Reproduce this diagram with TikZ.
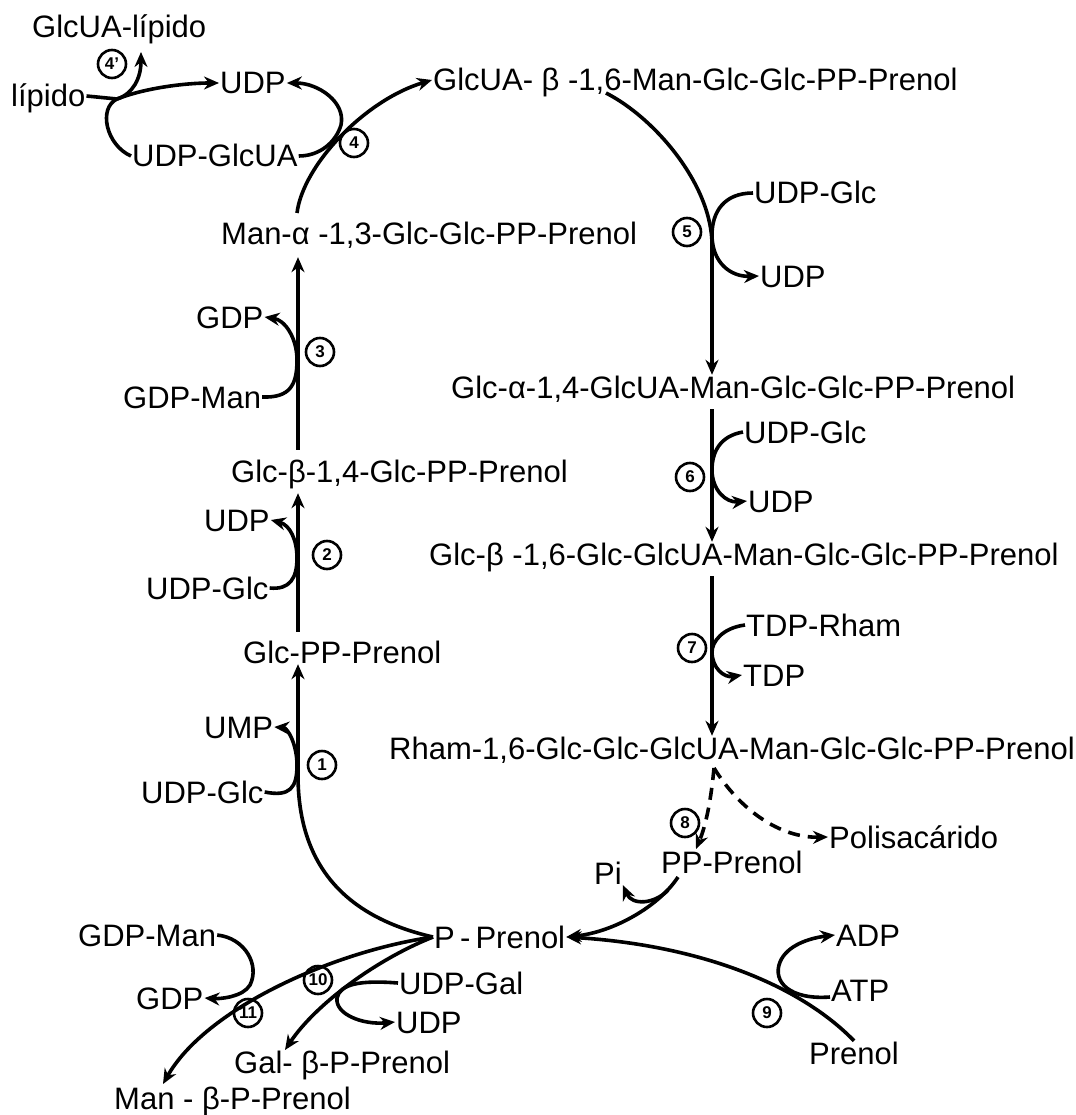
\documentclass[tikz,border=0pt]{standalone}
\usepackage{fontspec}
\setmainfont{Liberation Sans}
\usetikzlibrary{arrows.meta}

\begin{document}
\begin{tikzpicture}[x=1pt, y=-1pt, >={Stealth[length=15pt,width=13pt]},
    every node/.style={font=\fontsize{31}{36}\selectfont},
    texto/.style={anchor=west, inner sep=1pt, text height=22pt, text depth=0pt},
    paso/.style={draw, circle, line width=2.6pt, inner sep=0pt, minimum size=28pt,
                 font=\fontsize{17}{17}\selectfont\bfseries},
    flujo/.style={line width=3.6pt},
    rayas/.style={flujo, dash pattern=on 12pt off 8pt}]

    \fill[white] (0,0) rectangle (1071,1115);

    % columna izquierda
    \node[texto] (glcuaLip) at (31,27) {GlcUA-lípido};
    \node[texto] (lipido) at (10,96) {lípido};
    \node[texto] (udpA) at (219,83) {UDP};
    \node[texto] (udpGlcua) at (131,156) {UDP-GlcUA};
    \node[texto] (manA) at (220,233) {Man-α -1,3-Glc-Glc-PP-Prenol};
    \node[texto] (gdp3) at (195,317) {GDP};
    \node[texto] (gdpMan3) at (122,397) {GDP-Man};
    \node[texto] (glcb14) at (230,471) {Glc-β-1,4-Glc-PP-Prenol};
    \node[texto] (udp2) at (203,520) {UDP};
    \node[texto] (udpGlc2) at (145,588) {UDP-Glc};
    \node[texto] (glcPP) at (242,652) {Glc-PP-Prenol};
    \node[texto] (ump) at (203,727) {UMP};
    \node[texto] (udpGlc1) at (140,792) {UDP-Glc};

    % columna derecha
    \node[texto] (glcuaMan) at (432,80) {GlcUA- β -1,6-Man-Glc-Glc-PP-Prenol};
    \node[texto] (udpGlc5) at (753,193) {UDP-Glc};
    \node[texto] (udp5) at (759,276) {UDP};
    \node[texto] (glca14) at (450,387) {Glc-α-1,4-GlcUA-Man-Glc-Glc-PP-Prenol};
    \node[texto] (udpGlc6) at (743,432) {UDP-Glc};
    \node[texto] (udp6) at (747,501) {UDP};
    \node[texto] (glcb16) at (428,554) {Glc-β -1,6-Glc-GlcUA-Man-Glc-Glc-PP-Prenol};
    \node[texto] (tdpRham) at (745,625) {TDP-Rham};
    \node[texto] (tdp) at (742,675) {TDP};
    \node[texto] (rham) at (388,748) {Rham-1,6-Glc-Glc-GlcUA-Man-Glc-Glc-PP-Prenol};

    % parte de abajo
    \node[texto] (polisac) at (828,837) {Polisacárido};
    \node[texto] (ppPrenol) at (660,862) {PP-Prenol};
    \node[texto] (pi) at (593,873) {Pi};
    \node[texto] (pPrenol) at (433,937) {P\,-\,Prenol};
    \node[texto] (gdpMan11) at (77,935) {GDP-Man};
    \node[texto] (adp) at (835,935) {ADP};
    \node[texto] (udpGal) at (398,983) {UDP-Gal};
    \node[texto] (atp) at (830,990) {ATP};
    \node[texto] (gdp11) at (135,998) {GDP};
    \node[texto] (udp10) at (395,1022) {UDP};
    \node[texto] (prenol) at (808,1053) {Prenol};
    \node[texto] (galP) at (233,1062) {Gal- β-P-Prenol};
    \node[texto] (manP) at (113,1098) {Man - β-P-Prenol};

    \foreach \Nombre/\Pos/\Num in {r4b/{(112,64)}/4', r4/{(354,143)}/4, r5/{(687,232)}/5,
        r3/{(320,352)}/3, r2/{(327,555)}/2, r6/{(690,477)}/6, r7/{(692,648)}/7,
        r1/{(322,765)}/1, r8/{(685,823)}/8, r9/{(767,1013)}/9, r10/{(318,980)}/10,
        r11/{(248,1013)}/11}
        \node[paso] (\Nombre) at \Pos {\Num};

    \coordinate (ejeI) at (298,0);
    \coordinate (ejeD) at (712,0);
    \coordinate (j4p) at (117,99);
    \coordinate (t4p) at (141,52);
    \coordinate (a4) at (297,213);
    \coordinate (a5) at (606,93);
    \coordinate (jR) at (714,768);
    \coordinate (t8) at (696,849);
    \coordinate (a8) at (678,877);
    \coordinate (jPi) at (668,890);
    \coordinate (t10) at (285,1050);
    \coordinate (t11) at (163,1084);

    % cadena principal
    \draw[flujo, ->] (pPrenol.west) .. controls (350,918) and (298,870) .. (298,775) -- (glcPP.south -| ejeI);
    \draw[flujo, ->, shorten <=8pt, shorten >=10pt] (glcPP.north -| ejeI) -- (glcb14.south -| ejeI);
    \draw[flujo, ->, shorten <=9pt, shorten >=12pt] (glcb14.north -| ejeI) -- (manA.south -| ejeI);
    \draw[flujo, ->] (a4) .. controls (303,165) and (365,100) .. (glcuaMan.west);
    \draw[flujo, ->] (a5) .. controls (655,118) and (712,185) .. (712,245) -- (glca14.north -| ejeD);
    \draw[flujo, ->, shorten <=10pt] (glca14.south -| ejeD) -- (glcb16.north -| ejeD);
    \draw[flujo, ->, shorten <=10pt] (glcb16.south -| ejeD) -- (rham.north -| ejeD);
    \draw[rayas, ->] (jR) .. controls (711,800) and (706,825) .. (t8);
    \draw[rayas, ->] (jR) .. controls (740,810) and (780,838) .. (polisac.west);
    \draw[flujo, ->] (a8) .. controls (660,905) and (615,932) .. (pPrenol.east);
    \draw[flujo, ->] (prenol.north) .. controls (800,985) and (700,945) .. (pPrenol.east);
    \draw[flujo, ->] (pPrenol.west) .. controls (375,960) and (315,1005) .. (t10);
    \draw[flujo, ->] (pPrenol.west) .. controls (330,952) and (205,1010) .. (t11);

    % reacciones laterales
    \draw[flujo, ->] (udpGlc1.east) .. controls (290,797) and (297,788) .. (297,765)
        .. controls (297,745) and (288,728) .. (ump.east);
    \draw[flujo, ->] (udpGlc2.east) .. controls (290,590) and (297,578) .. (297,558)
        .. controls (297,540) and (290,525) .. (udp2.east);
    \draw[flujo, ->] (gdpMan3.east) .. controls (290,398) and (297,385) .. (297,360)
        .. controls (297,338) and (285,320) .. (gdp3.east);
    \draw[flujo, ->] (udpGlcua.east) .. controls (320,156) and (336,142) .. (341,125)
        .. controls (346,102) and (318,83) .. (udpA.east);
    \draw[flujo] (lipido.east) -- (j4p);
    \draw[flujo, ->] (j4p) .. controls (133,94) and (141,78) .. (t4p);
    \draw[flujo, ->] (udpGlcua.west) .. controls (106,145) and (98,108) .. (j4p)
        .. controls (145,88) and (185,83) .. (udpA.west);
    \draw[flujo, ->] (udpGlc5.west) .. controls (724,193) and (712,212) .. (712,235)
        .. controls (712,262) and (730,277) .. (udp5.west);
    \draw[flujo, ->] (udpGlc6.west) .. controls (720,436) and (712,452) .. (712,470)
        .. controls (712,490) and (726,503) .. (udp6.west);
    \draw[flujo, ->] (tdpRham.west) .. controls (722,628) and (712,642) .. (712,652)
        .. controls (712,668) and (724,678) .. (tdp.west);
    \draw[flujo, ->] (jPi) .. controls (655,904) and (632,906) .. (pi.south east);
    \draw[flujo, ->] ([yshift=-7pt]atp.west) .. controls (790,1000) and (772,982) .. (780,962)
        .. controls (787,945) and (810,938) .. (adp.west);
    \draw[flujo, ->] (udpGal.west) .. controls (360,980) and (340,984) .. (337,998)
        .. controls (335,1014) and (362,1025) .. (udp10.west);
    \draw[flujo, ->] (gdpMan11.east) .. controls (245,938) and (260,965) .. (250,985)
        .. controls (243,997) and (220,999) .. (gdp11.east);

\end{tikzpicture}
\end{document}
